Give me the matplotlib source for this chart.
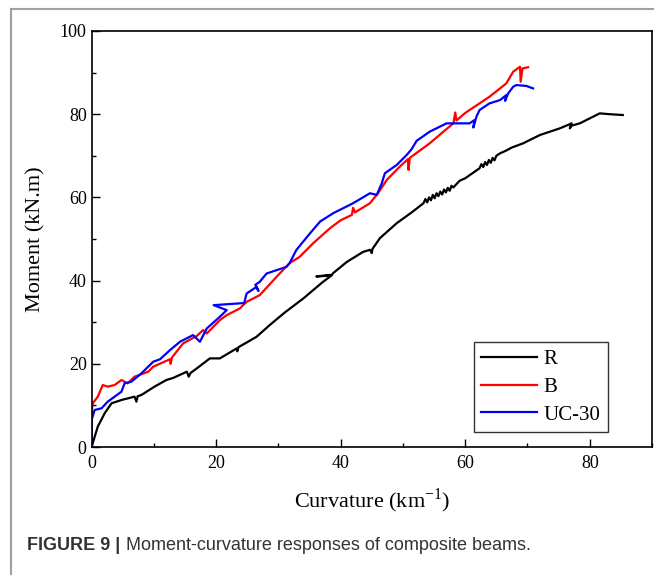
import matplotlib.pyplot as plt
from matplotlib.lines import Line2D
from matplotlib.ticker import MultipleLocator

# curvature (km^-1) / moment (kN.m)
r_curv = [0, 1.0, 2.1, 3.2, 4.8, 6.9, 7.2, 7.4, 8.0, 10.1, 12.0, 13.1, 15.3, 15.6, 15.9, 16.9,
          19.0, 20.6, 23.3, 23.4, 23.6, 26.5, 28.6, 31.0, 34.0, 37.0, 38.5, 36.1, 38.6, 38.8,
          41.0, 43.6, 44.7, 45.0, 45.1, 46.3, 49.0, 51.5, 53.3, 53.6, 53.9, 54.2, 54.5, 54.8,
          55.1, 55.4, 55.7, 56.0, 56.3, 56.6, 56.9, 57.2, 57.5, 57.8, 58.1, 59.1, 60.0, 62.3,
          62.6, 62.9, 63.2, 63.5, 63.8, 64.1, 64.4, 64.7, 65.0, 65.6, 66.5, 67.5, 69.3,
          72.0, 75.2, 77.1, 76.8, 77.0, 78.4, 80.0, 81.6, 83.2, 85.3]
r_mom = [0, 4.9, 8.1, 10.5, 11.3, 12.1, 10.9, 12.2, 12.5, 14.5, 16.1, 16.6, 18.1, 16.9, 17.8, 18.9,
         21.3, 21.3, 23.7, 23.0, 24.0, 26.5, 29.3, 32.3, 35.7, 39.5, 41.2, 41.0, 41.4, 41.8,
         44.5, 46.9, 47.4, 46.6, 47.6, 50.2, 53.8, 56.5, 58.6, 59.6, 58.8, 60.0, 59.3, 60.6,
         59.8, 61.0, 60.3, 61.4, 60.7, 61.9, 61.2, 62.3, 61.6, 62.8, 62.4, 64.0, 64.6, 67.0,
         68.0, 67.3, 68.5, 67.8, 69.0, 68.3, 69.5, 68.9, 70.0, 70.6, 71.2, 72.0, 73.0,
         75.0, 76.6, 77.8, 76.6, 77.2, 77.8, 79.0, 80.2, 80.0, 79.8]

b_curv = [0, 0, 0.2, 1.0, 1.8, 2.6, 3.7, 4.8, 5.8, 6.9, 9.1, 9.9, 12.6, 12.7, 12.9, 14.7, 16.9, 17.9,
          18.5, 20.6, 21.7, 23.8, 24.9, 27.0, 29.7, 31.8, 33.4, 35.6, 38.3, 40.0, 41.8, 42.0,
          42.3, 44.7, 46.0, 47.4, 49.5, 50.8, 50.9, 51.1, 54.3, 56.5, 58.1, 58.4, 58.6, 60.0,
          62.3, 63.9, 66.6, 67.7, 68.8, 68.9, 69.2, 70.1]
b_mom = [0, 8.1, 10.5, 12.1, 14.9, 14.5, 14.9, 16.1, 15.3, 16.9, 18.1, 19.3, 21.1, 20.0, 21.5, 24.9,
         26.7, 28.1, 27.3, 30.5, 31.7, 33.3, 34.9, 36.5, 40.9, 44.2, 45.7, 49.0, 52.6, 54.5, 55.8,
         57.5, 56.4, 58.6, 61.0, 64.2, 67.4, 69.2, 66.6, 69.5, 73.0, 75.8, 77.8, 80.4, 78.5, 80.3,
         82.6, 84.2, 87.4, 90.2, 91.4, 87.8, 91.0, 91.3]

u_curv = [0, 0, 0.5, 1.6, 2.6, 3.7, 4.8, 5.3, 6.4, 8.0, 9.9, 11.0, 12.6, 14.2, 16.3, 17.4,
          18.5, 20.6, 21.7, 19.6, 24.5, 24.9, 26.5, 26.8, 26.3, 27.0, 28.1, 31.3, 31.8, 32.9,
          35.1, 36.7, 38.8, 42.0, 44.7, 45.8, 46.6, 47.1, 49.0, 50.6, 51.4, 52.2, 54.3, 57.0,
          60.7, 61.5, 61.3, 61.8, 62.3, 63.9, 65.6, 66.6, 66.4, 66.9, 67.7, 68.2, 69.8, 70.9]
u_mom = [0, 6.5, 8.9, 9.3, 10.9, 12.1, 13.3, 15.3, 15.7, 17.7, 20.5, 21.1, 23.3, 25.3, 26.9, 25.3,
         28.5, 31.3, 32.9, 34.1, 34.6, 36.9, 38.5, 37.5, 39.0, 39.7, 41.7, 43.3, 44.2, 47.4,
         51.4, 54.2, 56.2, 58.6, 61.0, 60.6, 63.4, 65.8, 67.8, 70.2, 71.6, 73.6, 75.8, 77.8,
         77.8, 78.6, 76.8, 79.4, 81.0, 82.6, 83.4, 84.6, 83.2, 85.0, 86.6, 87.0, 86.8, 86.2]

serif = ['Liberation Serif', 'DejaVu Serif']

fig = plt.figure(figsize=(6.54, 5.75), dpi=100)
ax = fig.add_axes([0.140, 0.2226, 0.857, 0.7235])

ax.plot(r_curv, r_mom, color='black', lw=1.6, label='R')
ax.plot(b_curv, b_mom, color='#ff0000', lw=1.6, label='B')
ax.plot(u_curv, u_mom, color='#0000ff', lw=1.6, label='UC-30')

ax.set_xlim(0, 90)
ax.set_ylim(0, 100)
ax.xaxis.set_major_locator(MultipleLocator(20))
ax.xaxis.set_minor_locator(MultipleLocator(10))
ax.yaxis.set_major_locator(MultipleLocator(20))
ax.yaxis.set_minor_locator(MultipleLocator(10))
ax.tick_params(which='major', direction='in', length=6, width=1, labelsize=13)
ax.tick_params(axis='x', which='major', pad=6)
ax.tick_params(which='minor', direction='in', length=3, width=1)
for lab in ax.get_xticklabels() + ax.get_yticklabels():
    lab.set_family(serif)
for s in ax.spines.values():
    s.set_linewidth(1.2)

ax.set_xlabel('Curvature (km$^{\\mathregular{-1}}$)', family=serif, fontsize=16, labelpad=10)
ax.set_ylabel('Moment (kN.m)', family=serif, fontsize=16, labelpad=10)

leg = ax.legend(loc='lower right', bbox_to_anchor=(0.921, 0.036), borderaxespad=0,
                prop={'family': serif, 'size': 15}, fancybox=False, edgecolor='black',
                handlelength=2.7, handletextpad=0.3, labelspacing=0.4, borderpad=0.35)
leg.get_frame().set_linewidth(1.0)

# journal frame and caption
fig.add_artist(Line2D([11 / 654, 1], [1 - 9 / 575, 1 - 9 / 575], color='#a0a0a0', lw=1.5))
fig.add_artist(Line2D([11 / 654, 11 / 654], [0, 1 - 9 / 575], color='#a0a0a0', lw=1.5))
fig.text(27 / 654, 1 - 545 / 575, 'FIGURE 9 |', family='Liberation Sans', fontsize=13,
         fontweight='bold', color='#333333', va='center')
fig.text(126 / 654, 1 - 545 / 575, 'Moment-curvature responses of composite beams.',
         family='Liberation Sans', fontsize=13, color='#333333', va='center')

fig.savefig('out.png', dpi=100)
